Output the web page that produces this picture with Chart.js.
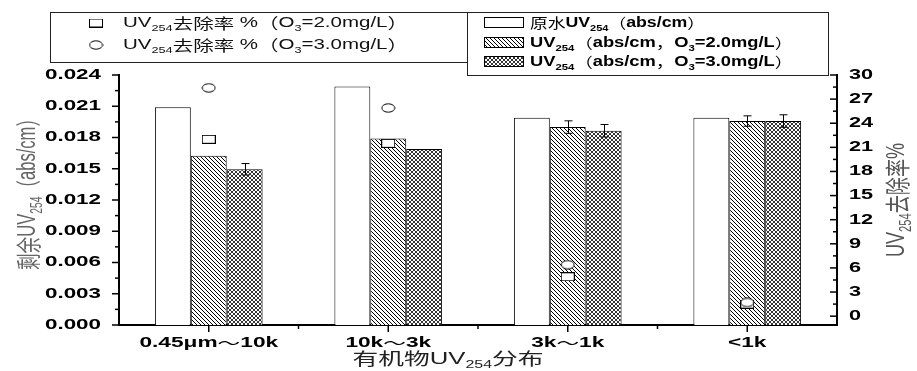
<!DOCTYPE html>
<html>
<head>
<meta charset="utf-8">
<script src="https://cdn.jsdelivr.net/npm/chart.js@4.4.0/dist/chart.umd.min.js"></script>
<style>
  html, body { margin: 0; background: #fff; }
  canvas { display: block; }
</style>
</head>
<body>
<canvas id="c" width="917" height="371"></canvas>
<script>
// 有机物分子量区间
const categories = ['0.45μm～10k', '10k～3k', '3k～1k', '<1k'];

// 剩余UV254 (abs/cm)
const uvRaw = [0.0209, 0.0229, 0.0199, 0.0199];
const uvO3a = [0.01625, 0.0179, 0.0190, 0.01958];   // O3=2.0mg/L
const uvO3b = [0.01495, 0.0169, 0.01865, 0.01958];  // O3=3.0mg/L
const errO3a = [null, null, 0.0006, 0.0005];
const errO3b = [0.00055, null, 0.0006, 0.0006];

// UV254去除率 %
const remO3a = [22.0, 21.5, 4.9, 1.5];
const remO3b = [28.4, 25.9, 6.4, 1.7];

// 刻度
const leftTicks = [0, 0.003, 0.006, 0.009, 0.012, 0.015, 0.018, 0.021, 0.024];
const rightTicks = [0, 3, 6, 9, 12, 15, 18, 21, 24, 27, 30];

const LAT = "'Liberation Sans', Arial, sans-serif";
const CJK = "'Noto Sans CJK SC', sans-serif";

// 填充图案
function makePattern(cross) {
    const s = 4;
    const c = document.createElement('canvas');
    c.width = s; c.height = s;
    const g = c.getContext('2d');
    g.fillStyle = '#fff';
    g.fillRect(0, 0, s, s);
    g.strokeStyle = '#000';
    g.lineWidth = cross ? 0.8 : 1;
    g.beginPath();
    g.moveTo(0, 0); g.lineTo(s, s);
    g.moveTo(-1, s - 1); g.lineTo(1, s + 1);
    g.moveTo(s - 1, -1); g.lineTo(s + 1, 1);
    if (cross) {
        g.moveTo(s, 0); g.lineTo(0, s);
        g.moveTo(-1, 1); g.lineTo(1, -1);
        g.moveTo(s - 1, s + 1); g.lineTo(s + 1, s - 1);
    }
    g.stroke();
    return g.createPattern(c, 'repeat');
}
const hatch = makePattern(false);
const crossHatch = makePattern(true);

// 散点符号
function makeMarker(circle) {
    const c = document.createElement('canvas');
    c.width = circle ? 15 : 14;
    c.height = circle ? 10 : 9;
    const g = c.getContext('2d');
    g.fillStyle = '#fff';
    g.strokeStyle = '#000';
    g.lineWidth = 1;
    if (circle) {
        g.beginPath();
        g.ellipse(7.5, 5, 6.5, 4.2, 0, 0, Math.PI * 2);
        g.fill(); g.stroke();
    } else {
        g.fillRect(0.5, 0.5, 13, 8);
        g.strokeRect(0.5, 0.5, 13, 8);
    }
    return c;
}
const squareImg = makeMarker(false);
const circleImg = makeMarker(true);

// 文字: 以 '_' 开头的部分为下标
function segs(parts, size, bold) {
    const out = [];
    parts.forEach(p => {
        const sub = p[0] === '_';
        const t = sub ? p.slice(1) : p;
        const fs = sub ? size * 0.62 : size;
        (t.match(/[\u3000-\u9fff\uff00-\uffef]+|[^\u3000-\u9fff\uff00-\uffef]+/g) || []).forEach(r => {
            const cjk = /[\u3000-\u9fff\uff00-\uffef]/.test(r);
            out.push({ t: r, sub, font: (!cjk && bold ? 'bold ' : '') + fs + 'px ' + (cjk ? CJK : LAT) });
        });
    });
    return out;
}

function drawText(ctx, parts, x, y, o) {
    const s = segs(parts, o.size, o.bold);
    let w = 0;
    s.forEach(g => { ctx.font = g.font; g.w = ctx.measureText(g.t).width; w += g.w; });
    const sx = o.w ? o.w / w : (o.sx || 1);
    ctx.save();
    ctx.translate(x, y);
    if (o.rot) { ctx.scale(o.perp || 1, 1); ctx.rotate(-Math.PI / 2); }
    ctx.scale(sx, 1);
    let start = o.align === 'left' ? 0 : o.align === 'right' ? -w : -w / 2;
    ctx.fillStyle = o.color || '#000';
    ctx.textBaseline = 'middle';
    ctx.textAlign = 'left';
    s.forEach(g => {
        ctx.font = g.font;
        ctx.fillText(g.t, start, g.sub ? o.size * 0.38 : 0);
        start += g.w;
    });
    ctx.restore();
}

function line(ctx, x1, y1, x2, y2) {
    ctx.beginPath();
    ctx.moveTo(x1, y1);
    ctx.lineTo(x2, y2);
    ctx.stroke();
}

const decor = {
    id: 'decor',
    afterDatasetsDraw(chart) {
        const ctx = chart.ctx;
        const y = chart.scales.y;
        ctx.save();
        ctx.strokeStyle = '#000';
        ctx.lineWidth = 1;
        [[1, errO3a], [2, errO3b]].forEach(([di, errs]) => {
            const meta = chart.getDatasetMeta(di);
            const vals = chart.data.datasets[di].data;
            meta.data.forEach((bar, i) => {
                if (errs[i] == null) return;
                const x = Math.round(bar.x) + 0.5;
                const top = y.getPixelForValue(vals[i] + errs[i]);
                const bot = y.getPixelForValue(vals[i] - errs[i]);
                line(ctx, x, top, x, bot);
                line(ctx, x - 4, top, x + 4, top);
                line(ctx, x - 4, bot, x + 4, bot);
            });
        });
        ctx.restore();
    },
    afterDraw(chart) {
        const ctx = chart.ctx;
        const { x, y, y1 } = chart.scales;
        const area = chart.chartArea;
        ctx.save();
        ctx.strokeStyle = '#000';
        ctx.lineWidth = 1.5;

        // 左轴刻度 (向外)
        leftTicks.forEach((v, i) => {
            const p = y.getPixelForValue(v);
            line(ctx, area.left - 7, p, area.left, p);
            if (i < leftTicks.length - 1) {
                const m = y.getPixelForValue((v + leftTicks[i + 1]) / 2);
                line(ctx, area.left - 4, m, area.left, m);
            }
            drawText(ctx, [v.toFixed(3)], 101, p, { size: 14, bold: true, sx: 1.6, align: 'right' });
        });

        // 右轴刻度 (向内)
        rightTicks.forEach((v, i) => {
            const p = y1.getPixelForValue(v);
            line(ctx, area.right - 7, p, area.right, p);
            if (i < rightTicks.length - 1) {
                const m = y1.getPixelForValue((v + rightTicks[i + 1]) / 2);
                line(ctx, area.right - 4, m, area.right, m);
            }
            drawText(ctx, [String(v)], 849, p, { size: 14, bold: true, sx: 1.55, align: 'left' });
        });

        // 横轴刻度
        categories.forEach((c, i) => {
            const p = x.getPixelForValue(i);
            line(ctx, p, area.bottom, p, area.bottom + 7);
            if (i < categories.length - 1) {
                const m = (p + x.getPixelForValue(i + 1)) / 2;
                line(ctx, m, area.bottom, m, area.bottom + 4);
            }
            drawText(ctx, [c], p, 343, { size: 14, bold: true, sx: 1.62, align: 'center' });
        });

        // 坐标轴标题
        drawText(ctx, ['剩余UV', '_254', '（abs/cm）'], 28, 190, { size: 18, w: 160, rot: true, perp: 1.4, color: '#666' });
        drawText(ctx, ['UV', '_254', '去除率%'], 897, 200, { size: 18, w: 114, rot: true, perp: 1.4, color: '#555' });
        drawText(ctx, ['有机物UV', '_254', '分布'], 448, 359, { size: 17, w: 191, color: '#222' });

        // 图例 (散点)
        ctx.lineWidth = 1;
        ctx.strokeStyle = '#222';
        ctx.fillStyle = '#fff';
        ctx.fillRect(50, 12, 417, 50);
        ctx.strokeRect(50.5, 12.5, 417, 50);
        ctx.drawImage(squareImg, 96 - squareImg.width / 2, 23 - squareImg.height / 2);
        ctx.drawImage(circleImg, 96 - circleImg.width / 2, 45 - circleImg.height / 2);
        drawText(ctx, ['UV', '_254', '去除率 %（O', '_3', '=2.0mg/L）'], 123, 23, { size: 15, w: 285, align: 'left', color: '#111' });
        drawText(ctx, ['UV', '_254', '去除率 %（O', '_3', '=3.0mg/L）'], 123, 45, { size: 15, w: 285, align: 'left', color: '#111' });

        // 图例 (柱)
        ctx.fillStyle = '#fff';
        ctx.fillRect(467, 12, 361, 64);
        ctx.strokeRect(467.5, 12.5, 361, 63);
        const fills = ['#fff', hatch, crossHatch];
        [22, 42, 61].forEach((cy, i) => {
            ctx.fillStyle = fills[i];
            ctx.fillRect(484, cy - 5, 39, 10);
            ctx.strokeStyle = '#000';
            ctx.strokeRect(484.5, cy - 4.5, 39, 10);
        });
        drawText(ctx, ['原水UV', '_254', '（abs/cm）'], 530, 23, { size: 14, bold: true, w: 175, align: 'left' });
        drawText(ctx, ['UV', '_254', '（abs/cm，O', '_3', '=2.0mg/L）'], 530, 43, { size: 14, bold: true, w: 263, align: 'left' });
        drawText(ctx, ['UV', '_254', '（abs/cm，O', '_3', '=3.0mg/L）'], 530, 62, { size: 14, bold: true, w: 263, align: 'left' });

        ctx.restore();
    }
};

const barCommon = { borderColor: '#000', borderWidth: 1, yAxisID: 'y', order: 1, categoryPercentage: 0.6, barPercentage: 1.0 };

new Chart(document.getElementById('c'), {
    type: 'bar',
    data: {
        labels: categories,
        datasets: [
            { ...barCommon, label: '原水UV254（abs/cm）', data: uvRaw, backgroundColor: '#fff' },
            { ...barCommon, label: 'UV254（abs/cm，O3=2.0mg/L）', data: uvO3a, backgroundColor: hatch },
            { ...barCommon, label: 'UV254（abs/cm，O3=3.0mg/L）', data: uvO3b, backgroundColor: crossHatch },
            { type: 'line', label: 'UV254去除率 %（O3=2.0mg/L）', data: remO3a, yAxisID: 'y1', showLine: false, pointStyle: squareImg, pointRadius: 6, order: 0.5 },
            { type: 'line', label: 'UV254去除率 %（O3=3.0mg/L）', data: remO3b, yAxisID: 'y1', showLine: false, pointStyle: circleImg, pointRadius: 6, order: 0 }
        ]
    },
    options: {
        responsive: false,
        animation: false,
        devicePixelRatio: 1,
        layout: { padding: { top: 75, left: 0, right: 0, bottom: 0 } },
        plugins: { legend: { display: false }, tooltip: { enabled: false } },
        scales: {
            x: {
                grid: { display: false },
                border: { color: '#000', width: 2 },
                ticks: { display: false },
                afterFit(s) { s.height = 46; }
            },
            y: {
                position: 'left',
                min: 0, max: 0.024,
                grid: { display: false },
                border: { color: '#000', width: 2 },
                ticks: { display: false },
                afterBuildTicks(s) { s.ticks = leftTicks.map(v => ({ value: v })); },
                afterFit(s) { s.width = 119; }
            },
            y1: {
                position: 'right',
                min: -1.1, max: 30,
                grid: { display: false },
                border: { color: '#000', width: 2 },
                ticks: { display: false },
                afterBuildTicks(s) { s.ticks = rightTicks.map(v => ({ value: v })); },
                afterFit(s) { s.width = 80; }
            }
        }
    },
    plugins: [decor]
});
</script>
</body>
</html>
